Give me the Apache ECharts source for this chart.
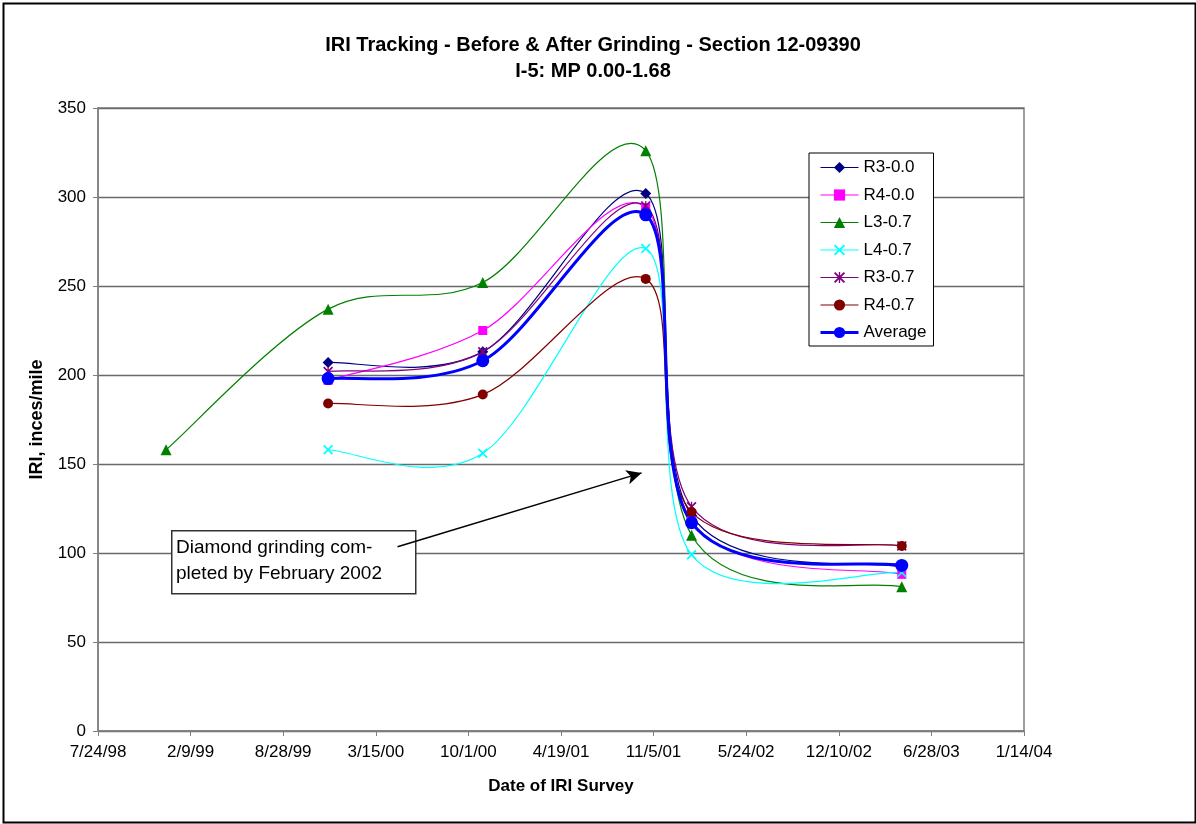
<!DOCTYPE html>
<html>
<head>
<meta charset="utf-8">
<script src="https://cdn.jsdelivr.net/npm/echarts@6/dist/echarts.min.js"></script>
<style>
html,body{margin:0;padding:0;background:#fff;}
#chart{width:1196px;height:824px;}
</style>
</head>
<body>
<div id="chart"></div>
<script>
// ---- data ----
const surveyDates = ['1999-12-03', '2000-11-01', '2001-10-19', '2002-01-26', '2003-04-25'];
const l3Dates = ['1998-12-18', '1999-12-03', '2000-11-01', '2001-10-19', '2002-01-26', '2003-04-25'];
const seriesNames = ['R3-0.0', 'R4-0.0', 'L3-0.7', 'L4-0.7', 'R3-0.7', 'R4-0.7', 'Average'];
const r3_00 = [207, 213, 302, 121, 92];
const r4_00 = [197, 225, 294, 118, 88];
const l3_07 = [158, 237, 252, 326, 110, 81];
const l4_07 = [158, 156, 271, 99, 89];
const r3_07 = [202, 213, 295, 126, 104];
const r4_07 = [184, 189, 254, 123, 104];
const average = [198, 208, 290, 117, 93];
const xTickStart = '1998-07-24';
const xTickEnd = '2004-01-14';
const xTickStepDays = 200;
const arrowFrom = ['2000-05-01', 103.5];
const arrowTo = ['2001-10-10', 145];
const noteText = 'Diamond grinding com-\npleted by February 2002';

// ---- helpers ----
const DAY = 86400000;
const EPOCH = Date.UTC(1899, 11, 30);
function serial(s) { const p = s.split('-').map(Number); return Math.round((Date.UTC(p[0], p[1] - 1, p[2]) - EPOCH) / DAY); }
function fmt(v) { const d = new Date(EPOCH + v * DAY); return (d.getUTCMonth() + 1) + '/' + d.getUTCDate() + '/' + String(d.getUTCFullYear()).slice(2); }
function pairs(dates, vals) { return vals.map((v, i) => [serial(dates[i]), v]); }

const FONT = "'Liberation Sans', Arial, sans-serif";
const X_SYM = 'path://M0,1.2L1.2,0L5,3.8L8.8,0L10,1.2L6.2,5L10,8.8L8.8,10L5,6.2L1.2,10L0,8.8L3.8,5Z';
const STAR_SYM = 'path://M0,1.2L1.2,0L5,3.8L8.8,0L10,1.2L6.2,5L10,8.8L8.8,10L5,6.2L1.2,10L0,8.8L3.8,5Z M4.4,0L5.6,0L5.6,10L4.4,10Z';

const defs = [
  { name: seriesNames[0], data: pairs(surveyDates, r3_00), color: '#000080', symbol: 'diamond', size: 11, width: 1.2 },
  { name: seriesNames[1], data: pairs(surveyDates, r4_00), color: '#FF00FF', symbol: 'rect', size: 9, width: 1.2 },
  { name: seriesNames[2], data: pairs(l3Dates, l3_07), color: '#008000', symbol: 'triangle', size: 11, width: 1.2 },
  { name: seriesNames[3], data: pairs(surveyDates, l4_07), color: '#00FFFF', symbol: X_SYM, size: 10, width: 1.2 },
  { name: seriesNames[4], data: pairs(surveyDates, r3_07), color: '#800080', symbol: STAR_SYM, size: 10, width: 1.2 },
  { name: seriesNames[5], data: pairs(surveyDates, r4_07), color: '#800000', symbol: 'circle', size: 10, width: 1.2 },
  { name: seriesNames[6], data: pairs(surveyDates, average), color: '#0000FF', symbol: 'circle', size: 13, width: 3 }
];

// Excel-style smoothed curve (Catmull-Rom Bezier through the data points, in pixel space)
function curveSeries(def) {
  return {
    name: def.name + ' curve', type: 'custom', data: def.data, z: 2,
    encode: { x: 0, y: 1 }, silent: true, animation: false,
    renderItem: function (params, api) {
      if (params.dataIndex !== 0) return null;
      const P = def.data.map(d => api.coord(d));
      let path = 'M' + P[0][0] + ',' + P[0][1];
      for (let i = 0; i < P.length - 1; i++) {
        const p0 = P[i - 1] || P[i], p1 = P[i], p2 = P[i + 1], p3 = P[i + 2] || P[i + 1];
        const c1 = [p1[0] + (p2[0] - p0[0]) / 6, p1[1] + (p2[1] - p0[1]) / 6];
        const c2 = [p2[0] - (p3[0] - p1[0]) / 6, p2[1] - (p3[1] - p1[1]) / 6];
        path += 'C' + c1[0] + ',' + c1[1] + ' ' + c2[0] + ',' + c2[1] + ' ' + p2[0] + ',' + p2[1];
      }
      return { type: 'path', shape: { pathData: path }, style: { fill: 'none', stroke: def.color, lineWidth: def.width } };
    }
  };
}

function markerSeries(def, extra) {
  return Object.assign({
    name: def.name, type: 'line', data: def.data, z: 3,
    symbol: def.symbol, symbolSize: def.size, showSymbol: true,
    lineStyle: { color: def.color, width: def.width, opacity: 0 },
    itemStyle: { color: def.color },
    emphasis: { disabled: true }, animation: false
  }, extra || {});
}

const series = defs.map(curveSeries);
defs.forEach((d, i) => {
  const extra = (i === defs.length - 1) ? {
    markLine: {
      silent: true, symbol: ['none', 'arrow'], symbolSize: [11, 15],
      label: { show: false },
      lineStyle: { color: '#000', width: 1.5, type: 'solid', opacity: 1 },
      data: [[{ coord: [serial(arrowFrom[0]), arrowFrom[1]] }, { coord: [serial(arrowTo[0]), arrowTo[1]] }]]
    }
  } : null;
  series.push(markerSeries(d, extra));
});

const chart = echarts.init(document.getElementById('chart'));
const option = {
  backgroundColor: '#fff',
  animation: false,
  title: [{
    text: 'IRI Tracking - Before & After Grinding - Section 12-09390\nI-5: MP 0.00-1.68',
    left: 588, top: 27, textAlign: 'center',
    textStyle: { fontFamily: FONT, fontSize: 20, fontWeight: 'bold', color: '#000', lineHeight: 26 }
  }],
  grid: { left: 98, right: 172, top: 108, bottom: 93, show: true, borderColor: '#808080', borderWidth: 1.5, backgroundColor: 'transparent' },
  legend: {
    orient: 'vertical', left: 809, top: 153,
    padding: [6, 7, 5, 10], itemGap: 10.5, itemWidth: 38, itemHeight: 14,
    backgroundColor: '#fff', borderColor: '#000', borderWidth: 1,
    textStyle: { fontFamily: FONT, fontSize: 17, color: '#000' },
    data: defs.map(d => ({ name: d.name, lineStyle: { color: d.color, width: d.width, opacity: 1 } }))
  },
  xAxis: {
    type: 'value', min: serial(xTickStart), max: serial(xTickEnd), interval: xTickStepDays,
    name: 'Date of IRI Survey', nameLocation: 'middle', nameGap: 47,
    nameTextStyle: { fontFamily: FONT, fontSize: 17, fontWeight: 'bold', color: '#000' },
    axisLine: { show: true, lineStyle: { color: '#808080', width: 1.5 } },
    axisTick: { show: true, length: 5, lineStyle: { color: '#808080' } },
    axisLabel: { formatter: fmt, margin: 13, fontFamily: FONT, fontSize: 17, color: '#000', showMinLabel: true, showMaxLabel: true },
    splitLine: { show: false }
  },
  yAxis: {
    type: 'value', min: 0, max: 350, interval: 50,
    name: 'IRI, inces/mile', nameLocation: 'middle', nameGap: 52,
    nameTextStyle: { fontFamily: FONT, fontSize: 18, fontWeight: 'bold', color: '#000' },
    axisLine: { show: true, lineStyle: { color: '#808080', width: 1.5 } },
    axisTick: { show: true, length: 5, lineStyle: { color: '#808080' } },
    axisLabel: { margin: 12, fontFamily: FONT, fontSize: 17, color: '#000' },
    splitLine: { show: true, lineStyle: { color: '#6a6a6a', width: 1.3 } }
  },
  graphic: [
    { type: 'rect', left: 1, top: 1, z: 0, shape: { width: 1192, height: 819 }, style: { fill: 'none', stroke: '#000', lineWidth: 2 } },
    { type: 'rect', left: 171, top: 530, z: 1, shape: { width: 244, height: 63 }, style: { fill: '#fff', stroke: '#333', lineWidth: 1.5 } },
    { type: 'text', left: 176, top: 535, z: 1, style: { text: noteText, font: '19px ' + FONT, fill: '#000', lineHeight: 26 } }
  ],
  series: series
};
chart.setOption(option);
</script>
</body>
</html>
